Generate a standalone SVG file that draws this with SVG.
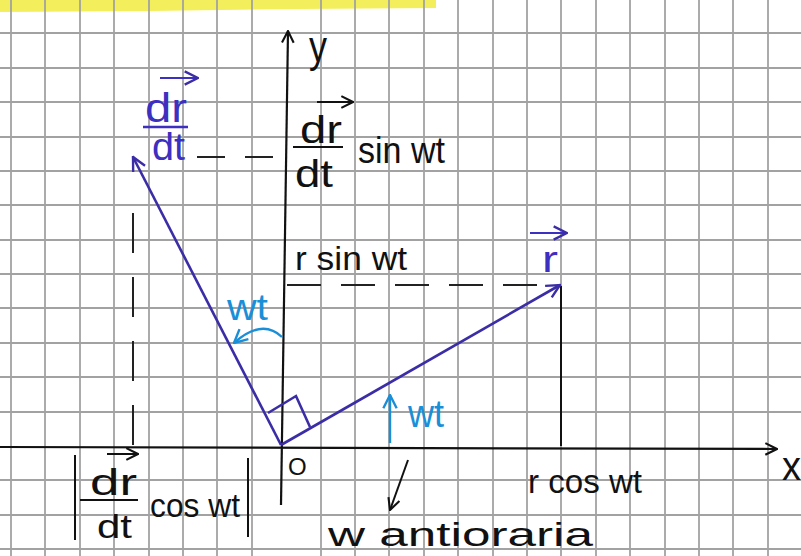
<svg xmlns="http://www.w3.org/2000/svg" width="801" height="556" viewBox="0 0 801 556">
<defs>
<style>
.grid line{stroke:#a2a2a2;stroke-width:1.8}
.ax{stroke:#111;stroke-width:2.2;fill:none}
.vec{stroke:#3a2da6;stroke-width:2.6;fill:none}
.lb{stroke:#1a8fd8;stroke-width:2.4;fill:none}
.dash{stroke:#222;stroke-width:2;fill:none}
.ink{stroke:#111;stroke-width:2;fill:none}
.t{font-family:"Liberation Sans",Arial,sans-serif;fill:#111}
.tb{font-family:"Liberation Sans",Arial,sans-serif;fill:#3d2fc0}
.tl{font-family:"Liberation Sans",Arial,sans-serif;fill:#1a8fd8}
</style>
<marker id="ak" viewBox="0 0 12 12" refX="11" refY="6" markerWidth="14" markerHeight="14" markerUnits="userSpaceOnUse" orient="auto"><path d="M1,1 L11,6 L1,11" fill="none" stroke="#111" stroke-width="1.8"/></marker>
<marker id="av" viewBox="0 0 12 12" refX="11" refY="6" markerWidth="16" markerHeight="16" markerUnits="userSpaceOnUse" orient="auto"><path d="M1,1 L11,6 L1,11" fill="none" stroke="#3a2da6" stroke-width="1.8"/></marker>
<marker id="ab" viewBox="0 0 12 12" refX="11" refY="6" markerWidth="16" markerHeight="16" markerUnits="userSpaceOnUse" orient="auto"><path d="M1,1 L11,6 L1,11" fill="none" stroke="#1a8fd8" stroke-width="1.8"/></marker>
</defs>
<rect width="801" height="556" fill="#ffffff"/>
<path d="M0,0 L436,0 L436,8 L300,9 L150,11 L0,12 Z" fill="#f3ef5c"/>
<g class="grid" id="grid">
<line x1="11" y1="0" x2="11" y2="556"/><line x1="45" y1="0" x2="45" y2="556"/><line x1="80" y1="0" x2="80" y2="556"/><line x1="114" y1="0" x2="114" y2="556"/><line x1="149" y1="0" x2="149" y2="556"/><line x1="183" y1="0" x2="183" y2="556"/><line x1="217" y1="0" x2="217" y2="556"/><line x1="252" y1="0" x2="252" y2="556"/><line x1="321" y1="0" x2="321" y2="556"/><line x1="355" y1="0" x2="355" y2="556"/><line x1="389" y1="0" x2="389" y2="556"/><line x1="424" y1="0" x2="424" y2="556"/><line x1="458" y1="0" x2="458" y2="556"/><line x1="493" y1="0" x2="493" y2="556"/><line x1="527" y1="0" x2="527" y2="556"/><line x1="561" y1="0" x2="561" y2="556"/><line x1="596" y1="0" x2="596" y2="556"/><line x1="630" y1="0" x2="630" y2="556"/><line x1="665" y1="0" x2="665" y2="556"/><line x1="699" y1="0" x2="699" y2="556"/><line x1="733" y1="0" x2="733" y2="556"/><line x1="768" y1="0" x2="768" y2="556"/>
<line x1="0" y1="33" x2="801" y2="33"/><line x1="0" y1="68" x2="801" y2="68"/><line x1="0" y1="102" x2="801" y2="102"/><line x1="0" y1="137" x2="801" y2="137"/><line x1="0" y1="171" x2="801" y2="171"/><line x1="0" y1="205" x2="801" y2="205"/><line x1="0" y1="240" x2="801" y2="240"/><line x1="0" y1="274" x2="801" y2="274"/><line x1="0" y1="308" x2="801" y2="308"/><line x1="0" y1="343" x2="801" y2="343"/><line x1="0" y1="377" x2="801" y2="377"/><line x1="0" y1="412" x2="801" y2="412"/><line x1="0" y1="480" x2="801" y2="480"/><line x1="0" y1="515" x2="801" y2="515"/><line x1="0" y1="549" x2="801" y2="549"/>
</g>
<g id="axes">
<line class="ax" x1="281" y1="505" x2="288" y2="31" marker-end="url(#ak)"/>
<line class="ax" x1="0" y1="447" x2="777" y2="449" marker-end="url(#ak)"/>
<text class="t" x="309" y="62" font-size="44" textLength="18" lengthAdjust="spacingAndGlyphs">y</text>
<text class="t" x="782" y="480" font-size="40" textLength="19" lengthAdjust="spacingAndGlyphs">x</text>
<text class="t" x="288" y="475" font-size="24">O</text>
</g>
<g id="connectors">
<line class="dash" x1="197" y1="157" x2="286" y2="157" stroke-dasharray="28 20"/>
<line class="dash" x1="133" y1="213" x2="133" y2="446" stroke-dasharray="40 24"/>
<line class="dash" x1="287" y1="285" x2="540" y2="285" stroke-dasharray="34 20"/>
<line class="ink" x1="561" y1="286" x2="561" y2="446"/>
<line class="vec" x1="281" y1="445" x2="560" y2="285" marker-end="url(#av)"/>
<line class="vec" x1="281" y1="445" x2="133" y2="157" marker-end="url(#av)"/>
<polyline class="vec" points="268,413 296,396 310,427"/>
<path class="lb" d="M282,337 Q262,318 234,343" marker-end="url(#ab)"/>
<line class="lb" x1="390" y1="443" x2="390" y2="395" marker-end="url(#ab)"/>
<line class="ink" x1="408" y1="460" x2="390" y2="510" marker-end="url(#ak)"/>
</g>
<g id="label-drdt">
<line x1="160" y1="78" x2="198" y2="78" stroke="#3d2fc0" stroke-width="2" marker-end="url(#av)"/>
<text class="tb" x="145" y="122" font-size="40" textLength="42" lengthAdjust="spacingAndGlyphs">dr</text>
<line x1="143" y1="127" x2="188" y2="127" stroke="#3d2fc0" stroke-width="2.4"/>
<text class="tb" x="152" y="160" font-size="38" textLength="33" lengthAdjust="spacingAndGlyphs">dt</text>
</g>
<g id="label-drdt-sin">
<line class="ink" x1="317" y1="102" x2="353" y2="102" marker-end="url(#ak)"/>
<text class="t" x="300" y="143" font-size="38" textLength="42" lengthAdjust="spacingAndGlyphs">dr</text>
<line class="ink" x1="293" y1="147" x2="343" y2="147"/>
<text class="t" x="295" y="187" font-size="38" textLength="38" lengthAdjust="spacingAndGlyphs">dt</text>
<text class="t" x="358" y="163" font-size="36" textLength="87" lengthAdjust="spacingAndGlyphs">sin wt</text>
</g>
<g id="label-rsin">
<text class="t" x="295" y="270" font-size="34" textLength="112" lengthAdjust="spacingAndGlyphs">r sin wt</text>
</g>
<g id="label-r">
<line x1="530" y1="233" x2="567" y2="233" stroke="#3d2fc0" stroke-width="2" marker-end="url(#av)"/>
<text class="tb" x="542" y="272" font-size="36" textLength="16" lengthAdjust="spacingAndGlyphs">r</text>
</g>
<g id="label-wt1">
<text class="tl" x="227" y="320" font-size="36" textLength="41" lengthAdjust="spacingAndGlyphs">wt</text>
</g>
<g id="label-wt2">
<text class="tl" x="408" y="427" font-size="38" textLength="36" lengthAdjust="spacingAndGlyphs">wt</text>
</g>
<g id="label-drdt-cos">
<line class="ink" x1="75" y1="455" x2="75" y2="540"/>
<line class="ink" x1="248" y1="458" x2="248" y2="537"/>
<line class="ink" x1="107" y1="454" x2="138" y2="454" marker-end="url(#ak)"/>
<text class="t" x="90" y="495" font-size="36" textLength="47" lengthAdjust="spacingAndGlyphs">dr</text>
<line class="ink" x1="80" y1="500" x2="138" y2="500"/>
<text class="t" x="97" y="538" font-size="34" textLength="35" lengthAdjust="spacingAndGlyphs">dt</text>
<text class="t" x="150" y="517" font-size="34" textLength="90" lengthAdjust="spacingAndGlyphs">cos wt</text>
</g>
<g id="label-rcos">
<text class="t" x="528" y="493" font-size="34" textLength="114" lengthAdjust="spacingAndGlyphs">r cos wt</text>
</g>
<g id="label-antioraria">
<text class="t" x="328" y="546" font-size="34" textLength="265" lengthAdjust="spacingAndGlyphs">w antioraria</text>
</g>
</svg>
